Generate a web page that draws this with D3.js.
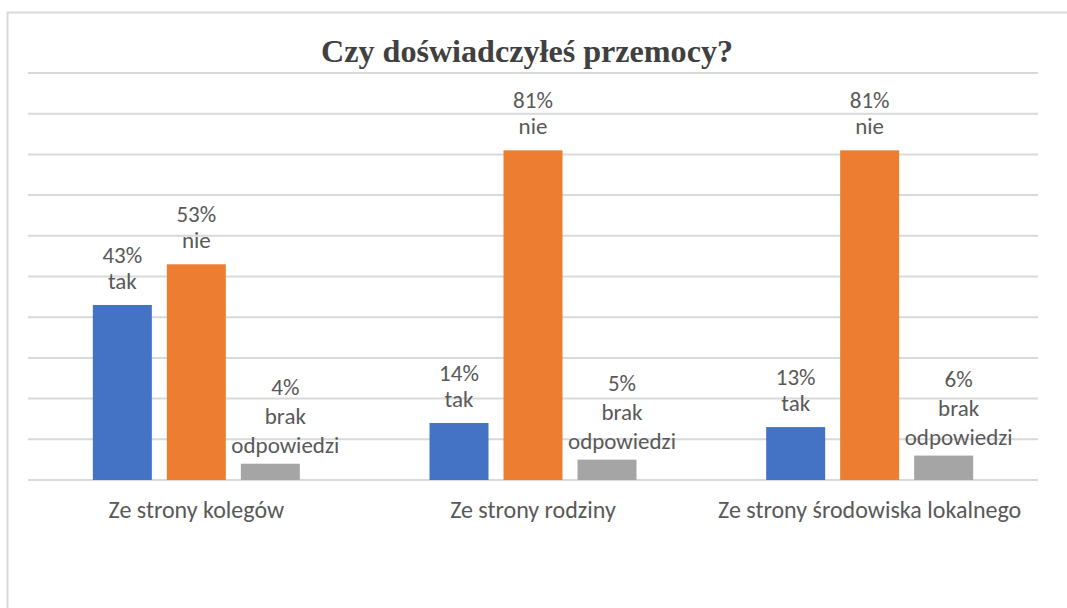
<!DOCTYPE html>
<meta charset="utf-8">
<style>
body { margin: 0; background: #fff; }
text { font-family: Carlito, "Open Sans", sans-serif; fill: #595959; }
.grid line { stroke: #d9d9d9; stroke-width: 2px; }
</style>
<svg width="1067" height="608"></svg>
<script src="https://d3js.org/d3.v7.min.js"></script>
<script>

var title = "Czy doświadczyłeś przemocy?";
var categories = ["Ze strony kolegów", "Ze strony rodziny", "Ze strony środowiska lokalnego"];
var seriesNames = ["tak", "nie", "brak odpowiedzi"];
var tak = [43, 14, 13];
var nie = [53, 81, 81];
var brak = [4, 5, 6];
var yTicks = [0, 10, 20, 30, 40, 50, 60, 70, 80, 90, 100];
var colors = ["#4472C4", "#ED7D31", "#A5A5A5"];

var svg = d3.select("svg");

// chart frame
svg.append("path")
    .attr("d", "M7.5,608 V12.5 H1067")
    .attr("fill", "none")
    .attr("stroke", "#d9d9d9")
    .attr("stroke-width", 2);

var plotLeft = 28, plotRight = 1038, plotTop = 73, plotBottom = 480;

var x0 = d3.scaleBand().domain(categories).range([plotLeft, plotRight]);
var x1 = d3.scaleBand().domain(seriesNames).range([0, 207]).paddingInner(15 / 74);
var y = d3.scaleLinear().domain([0, 100]).range([plotBottom, plotTop]);

svg.append("g")
    .attr("class", "grid")
    .selectAll("line")
    .data(yTicks)
    .enter().append("line")
    .attr("x1", plotLeft)
    .attr("x2", plotRight)
    .attr("y1", function (d) { return y(d); })
    .attr("y2", function (d) { return y(d); });

var rows = [];
categories.forEach(function (c, i) {
    [tak, nie, brak].forEach(function (arr, j) {
        rows.push({ cat: c, series: seriesNames[j], value: arr[i], color: colors[j] });
    });
});

var off = (x0.bandwidth() - 207) / 2;
function bx(d) { return x0(d.cat) + off + x1(d.series); }

svg.append("g")
    .selectAll("rect")
    .data(rows)
    .enter().append("rect")
    .attr("x", bx)
    .attr("y", function (d) { return y(d.value); })
    .attr("width", x1.bandwidth())
    .attr("height", function (d) { return y(0) - y(d.value); })
    .attr("fill", function (d) { return d.color; });

// data labels: value and series name above each bar
var labels = svg.append("g")
    .selectAll("text")
    .data(rows)
    .enter().append("text")
    .attr("text-anchor", "middle")
    .attr("font-size", 23);

labels.each(function (d) {
    var lines = [d.value + "%"].concat(d.series.split(" "));
    var multi = lines.length > 2;
    var lh = multi ? 29 : 26;
    var base = y(d.value) - (multi ? 11 : 16) - (lines.length - 1) * lh;
    var cx = bx(d) + x1.bandwidth() / 2 + (multi ? 15 : 0);
    var t = d3.select(this);
    lines.forEach(function (l, k) {
        t.append("tspan")
            .attr("x", cx)
            .attr("y", base + k * lh)
            .text(l);
    });
});

svg.append("g")
    .selectAll("text")
    .data(categories)
    .enter().append("text")
    .attr("x", function (d) { return x0(d) + x0.bandwidth() / 2; })
    .attr("y", 518)
    .attr("text-anchor", "middle")
    .attr("font-size", 24)
    .text(function (d) { return d; });

svg.append("text")
    .attr("x", 527)
    .attr("y", 62)
    .attr("text-anchor", "middle")
    .attr("font-weight", "bold")
    .attr("font-size", 32)
    .attr("textLength", 412)
    .attr("lengthAdjust", "spacingAndGlyphs")
    .style("font-family", "'Liberation Serif', serif")
    .style("fill", "#404040")
    .text(title);

</script>
